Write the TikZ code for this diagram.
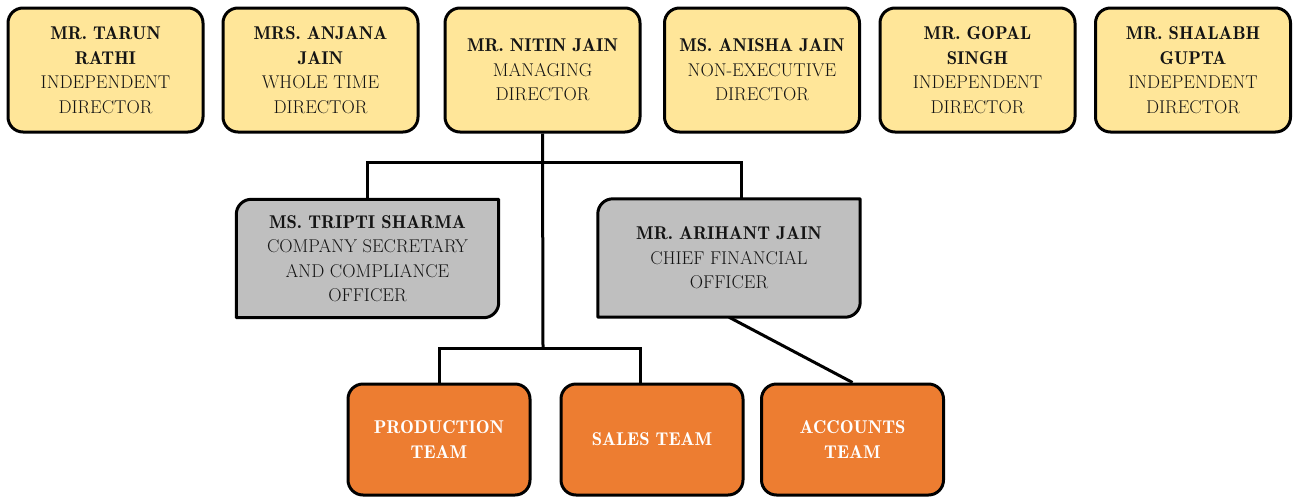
\documentclass[tikz,border=0pt]{standalone}
\definecolor{ybox}{HTML}{FFE699}
\definecolor{gbox}{HTML}{BFBFBF}
\definecolor{obox}{HTML}{ED7D31}
\definecolor{txt}{HTML}{141414}
\newcommand{\hb}[1]{{\fontseries{b}\selectfont #1}}
\tikzset{
  x=1pt,y=1pt,
  base/.style={align=center, inner sep=0pt, text=txt,
    font=\fontsize{18.5}{24.5}\selectfont},
  dirbox/.style={base, draw=black, line width=3pt, fill=ybox, rounded corners=15pt,
    minimum width=195pt, minimum height=124pt},
  offbox/.style={base, draw=none, minimum width=262pt, minimum height=118pt},
  teambox/.style={base, draw=black, line width=3pt, fill=obox, rounded corners=15pt,
    minimum width=182pt, minimum height=111pt, text=white, font=\fontsize{18.5}{24.5}\fontseries{b}\selectfont},
  conn/.style={draw=black, line width=3pt},
  offshape/.style={draw=black, fill=gbox, line width=3pt, line join=round}
}
\newcommand{\offoutline}[1]{%
  \draw[offshape] ([xshift=15pt]#1.north west) -- (#1.north east) -- ([yshift=15pt]#1.south east)
    arc[start angle=0, end angle=-90, radius=15pt] -- (#1.south west) -- ([yshift=-15pt]#1.north west)
    arc[start angle=180, end angle=90, radius=15pt] -- cycle;}
\begin{document}
\begin{tikzpicture}
\useasboundingbox (0,0) rectangle (1295,-498);
% directors
\node[dirbox] (tarun) at (105.5,-70) {\hb{MR. TARUN}\\\hb{RATHI}\\INDEPENDENT\\DIRECTOR};
\node[dirbox] (anjana) at (320.5,-70) {\hb{MRS. ANJANA}\\\hb{JAIN}\\WHOLE TIME\\DIRECTOR};
\node[dirbox] (nitin) at (542.5,-70) {\hb{MR. NITIN JAIN}\\MANAGING\\DIRECTOR};
\node[dirbox] (anisha) at (762,-70) {\hb{MS. ANISHA JAIN}\\NON-EXECUTIVE\\DIRECTOR};
\node[dirbox] (gopal) at (977.5,-70) {\hb{MR. GOPAL}\\\hb{SINGH}\\INDEPENDENT\\DIRECTOR};
\node[dirbox] (shalabh) at (1193,-70) {\hb{MR. SHALABH}\\\hb{GUPTA}\\INDEPENDENT\\DIRECTOR};
% officers (geometry)
\node[offbox] (tripti) at (367.5,-258.5) {};
\node[offbox] (arihant) at (729,-258) {};
% teams
\node[teambox] (prod) at (439,-439.5) {PRODUCTION\\TEAM};
\node[teambox] (sales) at (652,-439.5) {SALES TEAM};
\node[teambox] (acc) at (852.5,-439.5) {ACCOUNTS\\TEAM};
% coordinates for buses
\coordinate (bus1) at (543,-162);
\coordinate (bus2) at (543,-348);
% connectors
\draw[conn] (nitin.south) -- (bus2);
\draw[conn, line join=miter] (tripti.north) |- (bus1) -| ([xshift=12pt]arihant.north);
\draw[conn, line join=miter] (prod.north) |- (bus2) -| ([xshift=-12pt]sales.north);
\draw[conn] (arihant.south) -- (acc.north);
% officer shapes
\offoutline{tripti}
\offoutline{arihant}
\node[base] at (tripti) {\hb{MS. TRIPTI SHARMA}\\COMPANY SECRETARY\\AND COMPLIANCE\\OFFICER};
\node[base] at (arihant) {\hb{MR. ARIHANT JAIN}\\CHIEF FINANCIAL\\OFFICER};
\end{tikzpicture}
\end{document}
